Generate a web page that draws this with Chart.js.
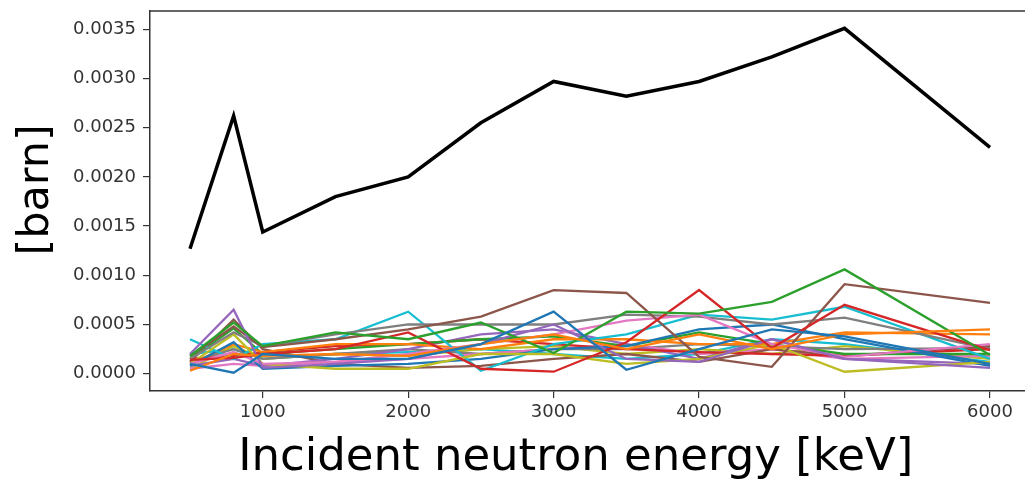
<!DOCTYPE html>
<html>
<head>
<meta charset="utf-8">
<script src="https://cdn.jsdelivr.net/npm/chart.js@4.4.1/dist/chart.umd.min.js"></script>
<style>
  html, body { margin: 0; padding: 0; background: #fff; overflow: hidden; }
  #wrap { position: absolute; left: 0; top: 0; width: 1040px; height: 483px; }
</style>
</head>
<body>
<div id="wrap"><canvas id="grafico"></canvas></div>
<script>
// energias incidentes (keV)
const energias = [500, 800, 1000, 1500, 2000, 2500, 3000, 3500, 4000, 4500, 5000, 6000];

// ticks
const xTicks = [1000, 2000, 3000, 4000, 5000, 6000];
const yTicks = [0, 0.0005, 0.001, 0.0015, 0.002, 0.0025, 0.003, 0.0035];

// linea negra (total)
const total = [0.00127, 0.00262, 0.00144, 0.00180, 0.00200, 0.00255, 0.00297, 0.00282, 0.00297, 0.00322, 0.00351, 0.00230];

// lineas de colores
const blueA   = [0.00010, 0.00001, 0.00020, 0.00015, 0.00015, 0.00030, 0.00063, 0.00004, 0.00025, 0.00045, 0.00038, 0.00010];
const orangeA = [0.00003, 0.00020, 0.00018, 0.00020, 0.00018, 0.00030, 0.00040, 0.00025, 0.00040, 0.00025, 0.00040, 0.00045];
const greenA  = [0.00018, 0.00052, 0.00028, 0.00042, 0.00035, 0.00052, 0.00021, 0.00063, 0.00061, 0.00073, 0.00106, 0.00019];
const redA    = [0.00014, 0.00016, 0.00020, 0.00025, 0.00042, 0.00005, 0.00002, 0.00032, 0.00085, 0.00026, 0.00070, 0.00024];
const purpleA = [0.00020, 0.00065, 0.00006, 0.00010, 0.00015, 0.00030, 0.00050, 0.00015, 0.00012, 0.00035, 0.00015, 0.00006];
const brownA  = [0.00018, 0.00048, 0.00027, 0.00035, 0.00045, 0.00058, 0.00085, 0.00082, 0.00017, 0.00007, 0.00091, 0.00072];
const pinkA   = [0.00010, 0.00022, 0.00010, 0.00012, 0.00020, 0.00030, 0.00040, 0.00054, 0.00060, 0.00030, 0.00017, 0.00030];
const grayA   = [0.00015, 0.00042, 0.00028, 0.00040, 0.00050, 0.00050, 0.00050, 0.00060, 0.00058, 0.00050, 0.00057, 0.00025];
const oliveA  = [0.00010, 0.00040, 0.00010, 0.00005, 0.00005, 0.00020, 0.00020, 0.00010, 0.00015, 0.00030, 0.00002, 0.00012];
const cyanA   = [0.00035, 0.00015, 0.00030, 0.00035, 0.00063, 0.00003, 0.00030, 0.00040, 0.00060, 0.00055, 0.00068, 0.00015];
const blueB   = [0.00008, 0.00032, 0.00005, 0.00008, 0.00010, 0.00015, 0.00025, 0.00028, 0.00045, 0.00050, 0.00035, 0.00008];
const orangeB = [0.00010, 0.00030, 0.00022, 0.00030, 0.00030, 0.00025, 0.00035, 0.00035, 0.00030, 0.00030, 0.00042, 0.00040];
const greenB  = [0.00015, 0.00046, 0.00020, 0.00025, 0.00030, 0.00035, 0.00038, 0.00028, 0.00042, 0.00030, 0.00020, 0.00020];
const redB    = [0.00015, 0.00018, 0.00022, 0.00028, 0.00030, 0.00035, 0.00030, 0.00025, 0.00022, 0.00020, 0.00018, 0.00025];
const purpleB = [0.00008, 0.00015, 0.00008, 0.00015, 0.00025, 0.00040, 0.00045, 0.00030, 0.00015, 0.00035, 0.00015, 0.00010];
const brownB  = [0.00012, 0.00055, 0.00025, 0.00010, 0.00006, 0.00008, 0.00015, 0.00020, 0.00012, 0.00025, 0.00018, 0.00028];
const pinkB   = [0.00005, 0.00010, 0.00008, 0.00012, 0.00015, 0.00020, 0.00025, 0.00030, 0.00020, 0.00025, 0.00015, 0.00018];
const grayB   = [0.00012, 0.00025, 0.00015, 0.00020, 0.00025, 0.00020, 0.00025, 0.00025, 0.00030, 0.00028, 0.00025, 0.00026];
const oliveB  = [0.00005, 0.00028, 0.00015, 0.00020, 0.00018, 0.00025, 0.00028, 0.00020, 0.00025, 0.00020, 0.00028, 0.00015];
const cyanB   = [0.00020, 0.00025, 0.00015, 0.00020, 0.00022, 0.00025, 0.00020, 0.00015, 0.00020, 0.00035, 0.00030, 0.00012];

// colores tab10
const colores = ['#1f77b4', '#ff7f0e', '#2ca02c', '#d62728', '#9467bd', '#8c564b', '#e377c2', '#7f7f7f', '#bcbd22', '#17becf'];

const series = [blueA, orangeA, greenA, redA, purpleA, brownA, pinkA, grayA, oliveA, cyanA,
                blueB, orangeB, greenB, redB, purpleB, brownB, pinkB, grayB, oliveB, cyanB];

function puntos(valores) {
  return valores.map((v, i) => ({x: energias[i], y: v}));
}

const datasets = [{
  label: 'total',
  data: puntos(total),
  borderColor: '#000',
  borderWidth: 3.5,
  pointRadius: 0,
  tension: 0,
  fill: false
}];
series.forEach((s, i) => {
  datasets.push({
    label: 's' + i,
    data: puntos(s),
    borderColor: colores[i % 10],
    borderWidth: 2.3,
    pointRadius: 0,
    tension: 0,
    fill: false
  });
});

// linea superior del marco (la derecha queda fuera de la imagen)
const marco = {
  id: 'marco',
  afterDraw(chart) {
    const {ctx, chartArea: a} = chart;
    ctx.save();
    ctx.strokeStyle = '#333';
    ctx.lineWidth = 1.5;
    ctx.beginPath();
    ctx.moveTo(a.left, a.top);
    ctx.lineTo(a.right, a.top);
    ctx.stroke();
    ctx.restore();
  }
};

const ctx = document.getElementById('grafico').getContext('2d');
const chart = new Chart(ctx, {
  type: 'line',
  data: {datasets: datasets},
  plugins: [marco],
  options: {
    responsive: true,
    maintainAspectRatio: false,
    animation: false,
    layout: {padding: {left: 0, right: 10, top: 11, bottom: 0}},
    plugins: {legend: {display: false}, tooltip: {enabled: false}},
    scales: {
      x: {
        type: 'linear',
        min: 225,
        max: 6275,
        afterBuildTicks: s => { s.ticks = xTicks.map(v => ({value: v})); },
        afterFit: s => { s.height = 92; s.paddingLeft = 0; s.paddingRight = 0; },
        grid: {drawOnChartArea: false, drawTicks: true, tickLength: 7, color: '#333', lineWidth: 1.2},
        border: {display: true, color: '#333', width: 1.5},
        ticks: {
          color: '#333',
          padding: 4,
          maxRotation: 0,
          font: {family: 'DejaVu Sans', size: 18},
          callback: v => String(v)
        },
        title: {
          display: true,
          text: 'Incident neutron energy [keV]\u00a0\u00a0',
          color: '#000',
          font: {family: 'DejaVu Sans', size: 45, lineHeight: 1},
          padding: {top: 0, bottom: 2}
        }
      },
      y: {
        type: 'linear',
        min: -0.000176,
        max: 0.003686,
        afterBuildTicks: s => { s.ticks = yTicks.map(v => ({value: v})); },
        afterFit: s => { s.width = 150; s.paddingTop = 0; s.paddingBottom = 0; },
        grid: {drawOnChartArea: false, drawTicks: true, tickLength: 7, color: '#333', lineWidth: 1.2},
        border: {display: true, color: '#333', width: 1.5},
        ticks: {
          color: '#333',
          padding: 7,
          font: {family: 'DejaVu Sans', size: 18},
          callback: v => v.toFixed(4)
        },
        title: {
          display: true,
          text: '\u00a0\u2009[barn]',
          color: '#000',
          font: {family: 'DejaVu Sans', size: 43, lineHeight: 1},
          padding: {top: 15, bottom: 0}
        }
      }
    }
  }
});
</script>
</body>
</html>
